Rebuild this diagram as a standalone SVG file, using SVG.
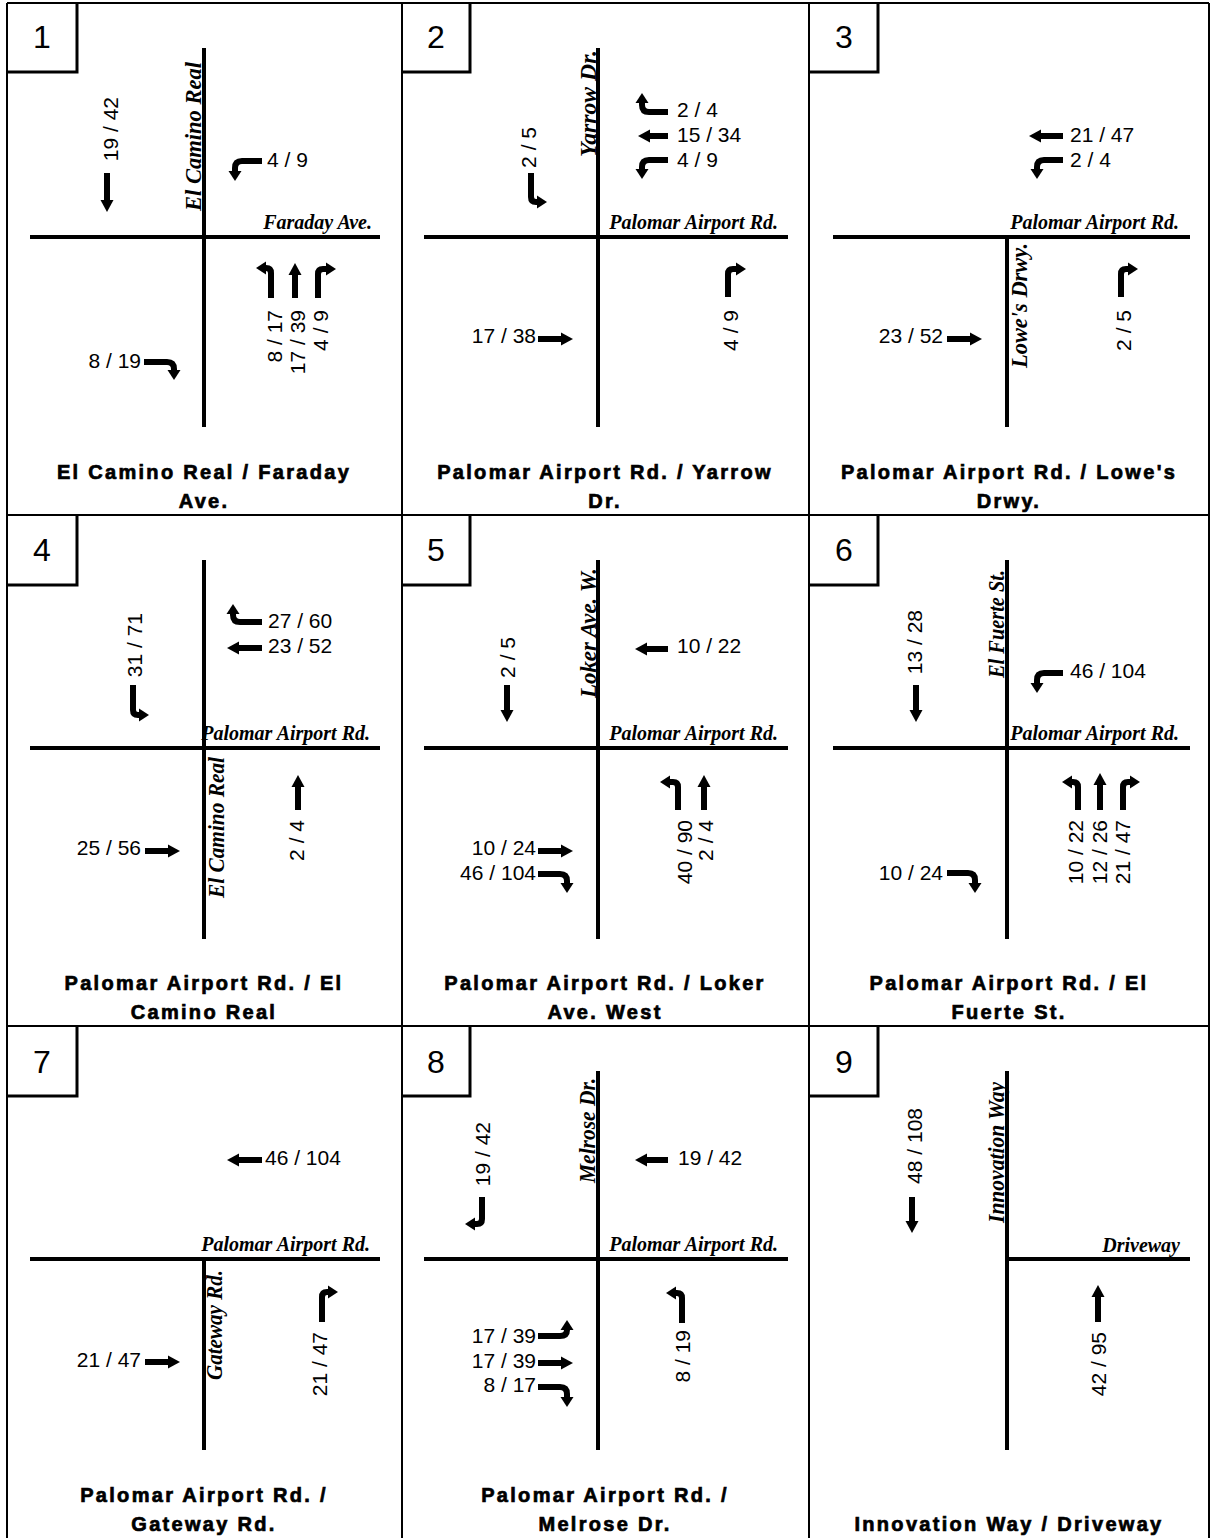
<svg xmlns="http://www.w3.org/2000/svg" width="1213" height="1538" viewBox="0 0 1213 1538">
<style>
.bd{stroke:#000;stroke-width:2;fill:none}
.bx{stroke:#000;stroke-width:3;fill:none}
.rd{stroke:#000;stroke-width:4;fill:none}
.ar{stroke:#000;stroke-width:6;fill:none;marker-end:url(#ah)}
.at{stroke:#000;stroke-width:6;fill:none;marker-end:url(#ht)}
.n{font-family:"Liberation Sans",Arial,sans-serif;font-size:21px;fill:#000}
.e{text-anchor:end}
.rn{font-family:"Liberation Serif","Times New Roman",serif;font-style:italic;font-weight:bold;font-size:20px;fill:#000}
.rv{font-family:"Liberation Serif","Times New Roman",serif;font-style:italic;font-weight:bold;font-size:24px;fill:#000}
.t{font-family:"Liberation Sans",Arial,sans-serif;font-weight:bold;font-size:20px;letter-spacing:2.3px;text-anchor:middle;fill:#000;stroke:#000;stroke-width:0.7px}
.no{font-family:"Liberation Sans",Arial,sans-serif;font-size:32px;text-anchor:middle;fill:#000}
</style>
<defs>
<marker id="ah" markerUnits="userSpaceOnUse" viewBox="0 -7 12 14" refX="0" refY="0" markerWidth="12" markerHeight="14" orient="auto"><path d="M0,-6.5 L12,0 L0,6.5 Z" fill="#000"/></marker>
<marker id="ht" markerUnits="userSpaceOnUse" viewBox="0 -7 10 14" refX="0" refY="0" markerWidth="10" markerHeight="14" orient="auto"><path d="M0,-6.5 L10,0 L0,6.5 Z" fill="#000"/></marker>
</defs>
<rect width="1213" height="1538" fill="#fff"/>

<g id="grid">
<path class="bd" d="M7 3V1538M402 3V1538M809 3V1538M1209 3V1538M7 3H1209M7 515H1209M7 1026H1209"/>
<path class="bx" d="M77 3V72H7M470 3V72H402M878 3V72H809M77 515V585H7M470 515V585H402M878 515V585H809M77 1026V1096H7M470 1026V1096H402M878 1026V1096H809"/>
<text class="no" x="42" y="48">1</text>
<text class="no" x="436" y="48">2</text>
<text class="no" x="844" y="48">3</text>
<text class="no" x="42" y="561">4</text>
<text class="no" x="436" y="561">5</text>
<text class="no" x="844" y="561">6</text>
<text class="no" x="42" y="1073">7</text>
<text class="no" x="436" y="1073">8</text>
<text class="no" x="844" y="1073">9</text>
</g>

<g id="panel-1">
<path class="rd" d="M204 48V427M30 237H380"/>
<text class="rv" transform="translate(201,211) rotate(-90)" textLength="149" lengthAdjust="spacingAndGlyphs">El Camino Real</text>
<text class="rn e" x="372" y="229">Faraday Ave.</text>
<g class="connectors">
<path class="ar" d="M107 173V200"/>
<path class="at" d="M262 161H242Q235 161 235 168V171"/>
<path class="at" d="M271 298V273Q271 268 266 268"/>
<path class="ar" d="M295 298V275"/>
<path class="at" d="M318 298V274Q318 269 323 269H326"/>
<path class="at" d="M144 362H167Q174 362 174 369V370"/>
</g>
<text class="n e" transform="translate(118,97) rotate(-90)">19 / 42</text>
<text class="n" x="267" y="167">4 / 9</text>
<text class="n e" transform="translate(282,310) rotate(-90)">8 / 17</text>
<text class="n e" transform="translate(305,310) rotate(-90)">17 / 39</text>
<text class="n e" transform="translate(328,310) rotate(-90)">4 / 9</text>
<text class="n e" x="141" y="368">8 / 19</text>
<text class="t" x="204" y="479">El Camino Real / Faraday</text>
<text class="t" x="204" y="508">Ave.</text>
</g>

<g id="panel-2">
<path class="rd" d="M598 48V427M424 237H788"/>
<text class="rv" transform="translate(596,157) rotate(-90)" textLength="107" lengthAdjust="spacingAndGlyphs">Yarrow Dr.</text>
<text class="rn e" x="778" y="229">Palomar Airport Rd.</text>
<g class="connectors">
<path class="at" d="M531 173V197Q531 202 536 202H537"/>
<path class="at" d="M668 112H649Q642 112 642 105V103"/>
<path class="ar" d="M668 136H650"/>
<path class="at" d="M668 160H649Q642 160 642 167V169"/>
<path class="ar" d="M538 339H561"/>
<path class="at" d="M728 297V274Q728 269 733 269H736"/>
</g>
<text class="n e" transform="translate(536,127) rotate(-90)">2 / 5</text>
<text class="n" x="677" y="117">2 / 4</text>
<text class="n" x="677" y="142">15 / 34</text>
<text class="n" x="677" y="167">4 / 9</text>
<text class="n e" x="536" y="343">17 / 38</text>
<text class="n e" transform="translate(738,310) rotate(-90)">4 / 9</text>
<text class="t" x="605" y="479">Palomar Airport Rd. / Yarrow</text>
<text class="t" x="605" y="508">Dr.</text>
</g>

<g id="panel-3">
<path class="rd" d="M1007 237V427M833 237H1190"/>
<text class="rv" transform="translate(1027,368) rotate(-90)" textLength="125" lengthAdjust="spacingAndGlyphs">Lowe's Drwy.</text>
<text class="rn e" x="1179" y="229">Palomar Airport Rd.</text>
<g class="connectors">
<path class="ar" d="M1063 136H1041"/>
<path class="at" d="M1063 160H1044Q1037 160 1037 167V169"/>
<path class="ar" d="M947 339H970"/>
<path class="at" d="M1121 297V274Q1121 269 1126 269H1128"/>
</g>
<text class="n" x="1070" y="142">21 / 47</text>
<text class="n" x="1070" y="167">2 / 4</text>
<text class="n e" x="943" y="343">23 / 52</text>
<text class="n e" transform="translate(1131,310) rotate(-90)">2 / 5</text>
<text class="t" x="1009" y="479">Palomar Airport Rd. / Lowe's</text>
<text class="t" x="1009" y="508">Drwy.</text>
</g>

<g id="panel-4">
<text class="rn e" x="370" y="740">Palomar Airport Rd.</text>
<path class="rd" d="M204 560V939M30 748H380"/>
<text class="rv" transform="translate(224,898) rotate(-90)" textLength="141" lengthAdjust="spacingAndGlyphs">El Camino Real</text>
<g class="connectors">
<path class="at" d="M133 685V710Q133 715 138 715H139"/>
<path class="at" d="M262 622H240Q233 622 233 615V614"/>
<path class="ar" d="M262 648H239"/>
<path class="ar" d="M145 851H168"/>
<path class="ar" d="M298 810V787"/>
</g>
<text class="n e" transform="translate(142,613) rotate(-90)">31 / 71</text>
<text class="n" x="268" y="628">27 / 60</text>
<text class="n" x="268" y="653">23 / 52</text>
<text class="n e" x="141" y="855">25 / 56</text>
<text class="n e" transform="translate(304,820) rotate(-90)">2 / 4</text>
<text class="t" x="204" y="990">Palomar Airport Rd. / El</text>
<text class="t" x="204" y="1019">Camino Real</text>
</g>

<g id="panel-5">
<path class="rd" d="M598 560V939M424 748H788"/>
<text class="rv" transform="translate(596,698) rotate(-90)" textLength="130" lengthAdjust="spacingAndGlyphs">Loker Ave. W.</text>
<text class="rn e" x="778" y="740">Palomar Airport Rd.</text>
<g class="connectors">
<path class="ar" d="M507 685V710"/>
<path class="ar" d="M668 649H647"/>
<path class="at" d="M678 810V787Q678 782 673 782H670"/>
<path class="ar" d="M704 810V787"/>
<path class="ar" d="M538 851H561"/>
<path class="at" d="M538 874H560Q567 874 567 881V883"/>
</g>
<text class="n e" transform="translate(515,637) rotate(-90)">2 / 5</text>
<text class="n" x="677" y="653">10 / 22</text>
<text class="n e" transform="translate(692,820) rotate(-90)">40 / 90</text>
<text class="n e" transform="translate(713,820) rotate(-90)">2 / 4</text>
<text class="n e" x="536" y="855">10 / 24</text>
<text class="n e" x="536" y="880">46 / 104</text>
<text class="t" x="605" y="990">Palomar Airport Rd. / Loker</text>
<text class="t" x="605" y="1019">Ave. West</text>
</g>

<g id="panel-6">
<path class="rd" d="M1007 560V939M833 748H1190"/>
<text class="rv" transform="translate(1004,678) rotate(-90)" textLength="108" lengthAdjust="spacingAndGlyphs">El Fuerte St.</text>
<text class="rn e" x="1179" y="740">Palomar Airport Rd.</text>
<g class="connectors">
<path class="ar" d="M916 685V710"/>
<path class="at" d="M1063 673H1044Q1037 673 1037 680V683"/>
<path class="at" d="M1078 810V787Q1078 782 1073 782H1072"/>
<path class="ar" d="M1100 810V785"/>
<path class="at" d="M1123 810V787Q1123 782 1128 782H1130"/>
<path class="at" d="M947 873H968Q975 873 975 880V883"/>
</g>
<text class="n e" transform="translate(922,610) rotate(-90)">13 / 28</text>
<text class="n" x="1070" y="678">46 / 104</text>
<text class="n e" transform="translate(1083,820) rotate(-90)">10 / 22</text>
<text class="n e" transform="translate(1107,820) rotate(-90)">12 / 26</text>
<text class="n e" transform="translate(1130,820) rotate(-90)">21 / 47</text>
<text class="n e" x="943" y="880">10 / 24</text>
<text class="t" x="1009" y="990">Palomar Airport Rd. / El</text>
<text class="t" x="1009" y="1019">Fuerte St.</text>
</g>

<g id="panel-7">
<text class="rn e" x="370" y="1251">Palomar Airport Rd.</text>
<path class="rd" d="M204 1259V1450M30 1259H380"/>
<text class="rv" transform="translate(222,1380) rotate(-90)" textLength="110" lengthAdjust="spacingAndGlyphs">Gateway Rd.</text>
<g class="connectors">
<path class="ar" d="M262 1160H239"/>
<path class="ar" d="M145 1362H168"/>
<path class="at" d="M322 1322V1297Q322 1292 327 1292H328"/>
</g>
<text class="n" x="265" y="1165">46 / 104</text>
<text class="n e" x="141" y="1367">21 / 47</text>
<text class="n e" transform="translate(327,1332) rotate(-90)">21 / 47</text>
<text class="t" x="204" y="1502">Palomar Airport Rd. /</text>
<text class="t" x="204" y="1531">Gateway Rd.</text>
</g>

<g id="panel-8">
<path class="rd" d="M598 1071V1450M424 1259H788"/>
<text class="rv" transform="translate(595,1183) rotate(-90)" textLength="105" lengthAdjust="spacingAndGlyphs">Melrose Dr.</text>
<text class="rn e" x="778" y="1251">Palomar Airport Rd.</text>
<g class="connectors">
<path class="at" d="M482 1197V1219Q482 1224 477 1224H475"/>
<path class="ar" d="M668 1160H647"/>
<path class="at" d="M682 1323V1298Q682 1293 677 1293H676"/>
<path class="at" d="M538 1336H560Q567 1336 567 1330"/>
<path class="ar" d="M538 1363H561"/>
<path class="at" d="M538 1387H560Q567 1387 567 1394V1397"/>
</g>
<text class="n e" transform="translate(490,1122) rotate(-90)">19 / 42</text>
<text class="n" x="678" y="1165">19 / 42</text>
<text class="n e" transform="translate(690,1330) rotate(-90)">8 / 19</text>
<text class="n e" x="536" y="1343">17 / 39</text>
<text class="n e" x="536" y="1368">17 / 39</text>
<text class="n e" x="536" y="1392">8 / 17</text>
<text class="t" x="605" y="1502">Palomar Airport Rd. /</text>
<text class="t" x="605" y="1531">Melrose Dr.</text>
</g>

<g id="panel-9">
<path class="rd" d="M1007 1071V1450M1007 1259H1190"/>
<text class="rv" transform="translate(1004,1223) rotate(-90)" textLength="141" lengthAdjust="spacingAndGlyphs">Innovation Way</text>
<text class="rn e" x="1180" y="1252">Driveway</text>
<g class="connectors">
<path class="ar" d="M912 1197V1221"/>
<path class="ar" d="M1098 1322V1297"/>
</g>
<text class="n e" transform="translate(922,1108) rotate(-90)">48 / 108</text>
<text class="n e" transform="translate(1106,1332) rotate(-90)">42 / 95</text>
<text class="t" x="1009" y="1531">Innovation Way / Driveway</text>
</g>
</svg>
